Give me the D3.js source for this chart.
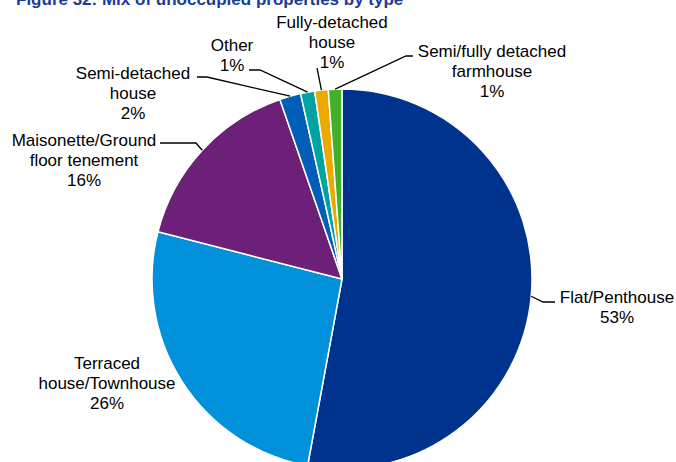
<!DOCTYPE html>
<html>
<head>
<meta charset="utf-8">
<script src="https://cdn.jsdelivr.net/npm/d3@7"></script>
<style>
  html, body { margin: 0; padding: 0; background: #fff; }
  svg { display: block; }
  text { font-family: "Liberation Sans", Arial, sans-serif; }
</style>
</head>
<body>
<svg id="chart" width="676" height="462"></svg>
<script>
// ---- Data ----
const categories = [
  "Flat/Penthouse",
  "Terraced house/Townhouse",
  "Maisonette/Ground floor tenement",
  "Semi-detached house",
  "Other",
  "Fully-detached house",
  "Semi/fully detached farmhouse"
];
const shares = [52.9, 26.1, 15.7, 1.8, 1.2, 1.15, 1.15];
const labelLines = [
  ["Flat/Penthouse"],
  ["Terraced", "house/Townhouse"],
  ["Maisonette/Ground", "floor tenement"],
  ["Semi-detached", "house"],
  ["Other"],
  ["Fully-detached", "house"],
  ["Semi/fully detached", "farmhouse"]
];
const colors = ["#00338D", "#0091DA", "#6D2077", "#005EB8", "#00A3A1", "#EAAA00", "#43B02A"];
const title = "Figure 32: Mix of unoccupied properties by type";

// ---- Layout ----
const W = 676, H = 462;
const cx = 342, cy = 279, R = 190;
// label block centre x, first line centre y, optional leader elbow points (after arc edge)
const labelLayout = [
  { x: 617, y: 297, leader: [[543, 302], [555, 302]] },
  { x: 107, y: 363, leader: null },
  { x: 84,  y: 140, leader: [[196, 143], [160, 143]] },
  { x: 133, y: 73,  leader: [[207, 77], [197, 77]] },
  { x: 232, y: 45,  leader: [[260, 70], [249, 70]] },
  { x: 332, y: 22,  leader: [[317, 68]] },
  { x: 492, y: 51,  leader: [[406, 56], [413, 56]] }
];
const lineH = 20;

const svg = d3.select("#chart");

// Title (cropped at top as in the reference)
svg.append("text")
  .attr("x", 16).attr("y", 5)
  .attr("font-size", 17).attr("font-weight", "bold")
  .attr("fill", "#1A3C96")
  .text(title);

const data = categories.map((c, i) => ({ cat: c, value: shares[i], i }));
const pie = d3.pie().value(d => d.value).sort(null).startAngle(0).endAngle(2 * Math.PI);
const arcs = pie(data);
const arc = d3.arc().innerRadius(0).outerRadius(R);
const color = d3.scaleOrdinal().domain(categories).range(colors);

const g = svg.append("g").attr("transform", `translate(${cx},${cy})`);
g.selectAll("path.slice")
  .data(arcs)
  .join("path")
  .attr("class", "slice")
  .attr("d", arc)
  .attr("fill", d => color(d.data.cat))
  .attr("stroke", "#fff")
  .attr("stroke-width", 1.5)
  .attr("stroke-linejoin", "round");

const fmt = v => Math.round(v) + "%";

// Leaders
arcs.forEach((a, k) => {
  const lay = labelLayout[k];
  if (!lay.leader) return;
  const mid = (a.startAngle + a.endAngle) / 2;
  const sx = cx + R * Math.sin(mid), sy = cy - R * Math.cos(mid);
  const pts = [[sx, sy], ...lay.leader];
  svg.append("path")
    .attr("d", d3.line()(pts))
    .attr("fill", "none")
    .attr("stroke", "#000")
    .attr("stroke-width", 1.3);
});

// Labels
arcs.forEach((a, k) => {
  const lay = labelLayout[k];
  const lines = [...labelLines[k], fmt(a.data.value)];
  const t = svg.append("text")
    .attr("text-anchor", "middle")
    .attr("font-size", 17)
    .attr("fill", "#000");
  lines.forEach((ln, j) => {
    t.append("tspan")
      .attr("x", lay.x)
      .attr("y", lay.y + j * lineH)
      .attr("dy", "0.35em")
      .text(ln);
  });
});
</script>
</body>
</html>
